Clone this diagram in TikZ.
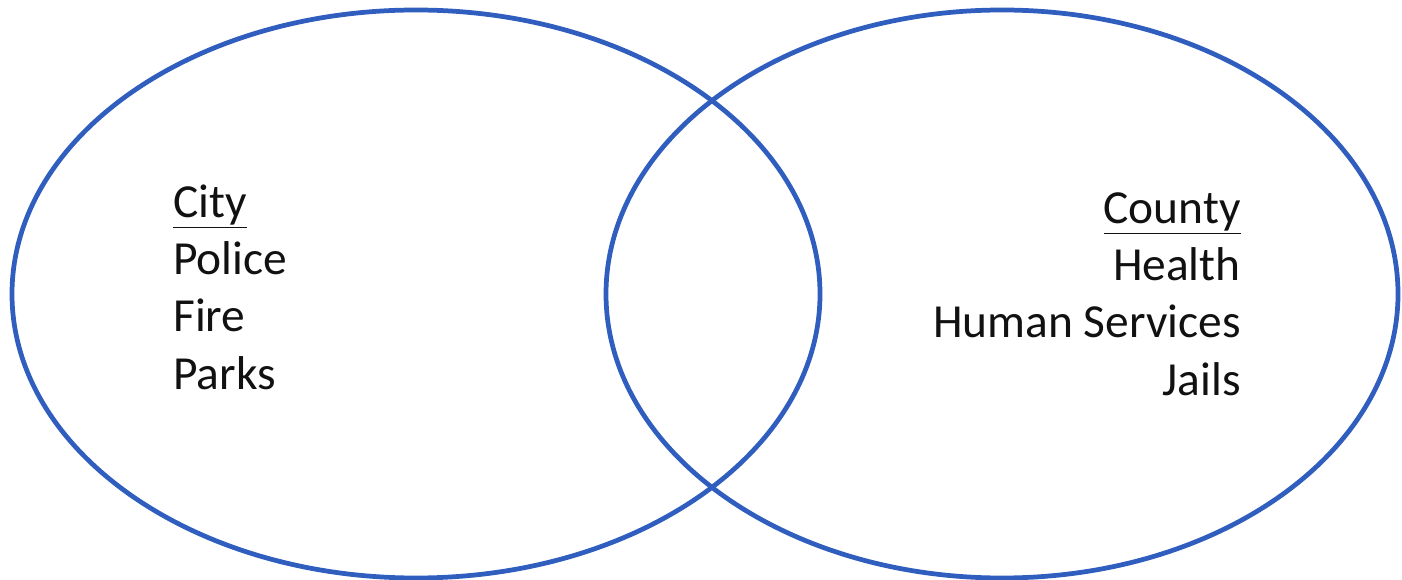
\documentclass[tikz,border=0pt]{standalone}
\usepackage{fontspec}
\setmainfont{Carlito}
\usetikzlibrary{positioning}
\definecolor{vennblue}{HTML}{2F5EBE}
\definecolor{txtblack}{HTML}{111111}

\begin{document}
\begin{tikzpicture}[x=0.02cm, y=-0.02cm,
  ring/.style={vennblue, line width=2.7pt},
  label/.style={text=txtblack, inner sep=0pt, font=\fontsize{27}{32.6}\selectfont}]

% Canvas
\useasboundingbox (0,0) rectangle (1402,580);

% Two overlapping sets
\draw[ring] (416,294) ellipse [x radius=404, y radius=284];
\draw[ring] (1002,294) ellipse [x radius=396, y radius=284];

% Set contents
\node[label, align=left, anchor=west] (city) at (173,287)
  {\underline{City}\\Police\\Fire\\Parks};
\node[label, align=right, anchor=east] (county) at (1241,294)
  {\underline{County}\\Health\\Human Services\\Jails};

\end{tikzpicture}
\end{document}
